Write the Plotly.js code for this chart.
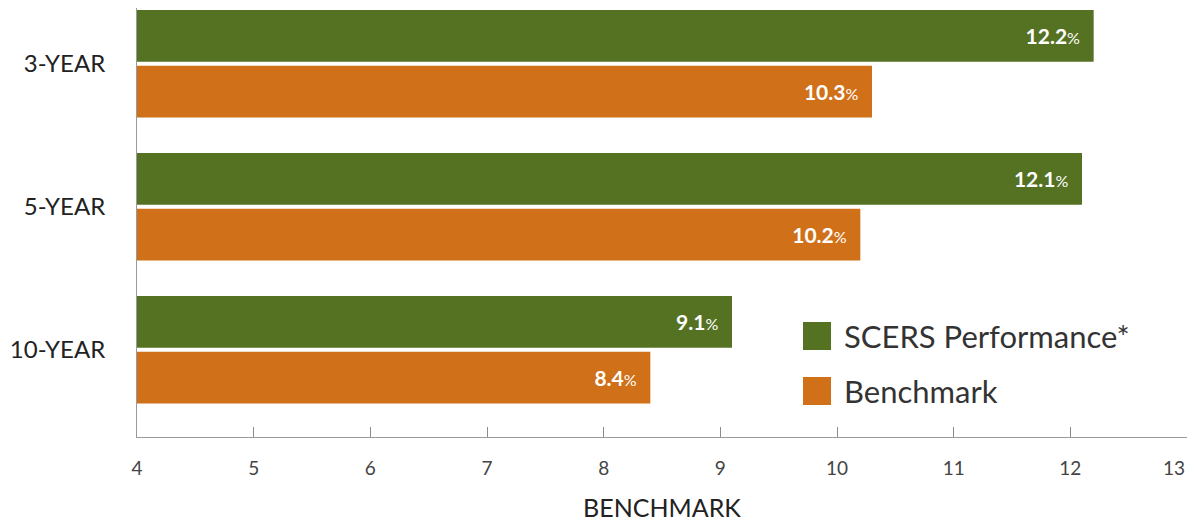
<!DOCTYPE html>
<html>
<head>
<meta charset="utf-8">
<script src="https://cdn.plot.ly/plotly-3.0.1.min.js"></script>
<style>html,body{margin:0;padding:0;background:#fff}#chart{width:1191px;height:522px}</style>
</head>
<body>
<div id="chart"></div>
<script>
var categories = ["3-YEAR", "5-YEAR", "10-YEAR"];
var scersValues = [12.2, 12.1, 9.1];
var benchmarkValues = [10.3, 10.2, 8.4];
var seriesNames = ["SCERS Performance*", "Benchmark"];
var seriesColors = ["#557223", "#D0711A"];
var xTickValues = [4, 5, 6, 7, 8, 9, 10, 11, 12, 13];
var xTickLabels = ["4", "5", "6", "7", "8", "9", "10", "11", "12", "13"];

var FONT = "Lato, 'Open Sans', sans-serif";
var labelTemplate = "<b>%{x:.1f}</b><span style='font-size:16px'>%</span>&nbsp;&nbsp;";
var TICKFONT = { family: FONT, size: 19, color: "#444444" };

function barTrace(values, i) {
  return {
    type: "bar",
    orientation: "h",
    y: categories,
    x: values,
    base: 0,
    name: seriesNames[i],
    marker: { color: seriesColors[i], line: { width: 0 } },
    texttemplate: labelTemplate,
    textposition: "inside",
    insidetextanchor: "end",
    textangle: 0,
    constraintext: "none",
    insidetextfont: { family: FONT, size: 21, color: "#ffffff" },
    hoverinfo: "skip",
    showlegend: false,
    cliponaxis: true
  };
}

var data = [barTrace(scersValues, 0), barTrace(benchmarkValues, 1)];

// the last tick label sits flush against the right edge, as in the original
var lastIdx = xTickLabels.length - 1;
var shownTickLabels = xTickLabels.map(function (t, i) { return i === lastIdx ? "" : t; });

var legendShapes = [];
var legendAnnotations = [];
var legendX0 = 803, legendY0 = 322, legendStep = 55, sq = 28;
seriesNames.forEach(function (nm, i) {
  var top = legendY0 + i * legendStep;
  legendShapes.push({
    type: "rect", xref: "paper", yref: "paper",
    x0: (legendX0 - 137) / 1050, x1: (legendX0 + sq - 137) / 1050,
    y0: (437 - top - sq) / 429, y1: (437 - top) / 429,
    fillcolor: seriesColors[i], line: { width: 0 }, layer: "above"
  });
  legendAnnotations.push({
    xref: "paper", yref: "paper",
    x: (842 - 137) / 1050, y: (437 - top - sq / 2) / 429,
    xanchor: "left", yanchor: "middle",
    text: nm, showarrow: false,
    font: { family: FONT, size: 31, color: "#333333" }
  });
});
legendAnnotations.push({
  xref: "x", yref: "paper",
  x: xTickValues[lastIdx], y: (437 - 467) / 429,
  xanchor: "right", yanchor: "middle",
  text: xTickLabels[lastIdx], showarrow: false,
  font: TICKFONT
});

var layout = {
  width: 1191, height: 522,
  margin: { l: 137, r: 4, t: 8, b: 85 },
  paper_bgcolor: "#ffffff", plot_bgcolor: "#ffffff",
  barmode: "group",
  bargap: 0.22,
  bargroupgap: 0.07,
  showlegend: false,
  font: { family: FONT, color: "#333333" },
  xaxis: {
    range: [4, 13],
    tickvals: xTickValues,
    ticktext: shownTickLabels,
    ticks: "inside", ticklen: 10, tickcolor: "#8a8a8a", tickwidth: 1,
    showgrid: false, zeroline: false,
    showline: true, linecolor: "#9a9a9a", linewidth: 1,
    tickfont: TICKFONT,
    ticklabelstandoff: 14,
    title: { text: "BENCHMARK", font: { family: FONT, size: 25, color: "#222222" }, standoff: 22 }
  },
  yaxis: {
    type: "category",
    range: [2.61, -0.39],
    showgrid: false, zeroline: false,
    showline: true, linecolor: "#9a9a9a", linewidth: 1,
    ticks: "",
    tickfont: { family: FONT, size: 24, color: "#222222" },
    ticklabelstandoff: 26
  },
  shapes: legendShapes,
  annotations: legendAnnotations
};

Plotly.newPlot("chart", data, layout, { staticPlot: true, displayModeBar: false });
</script>
</body>
</html>
